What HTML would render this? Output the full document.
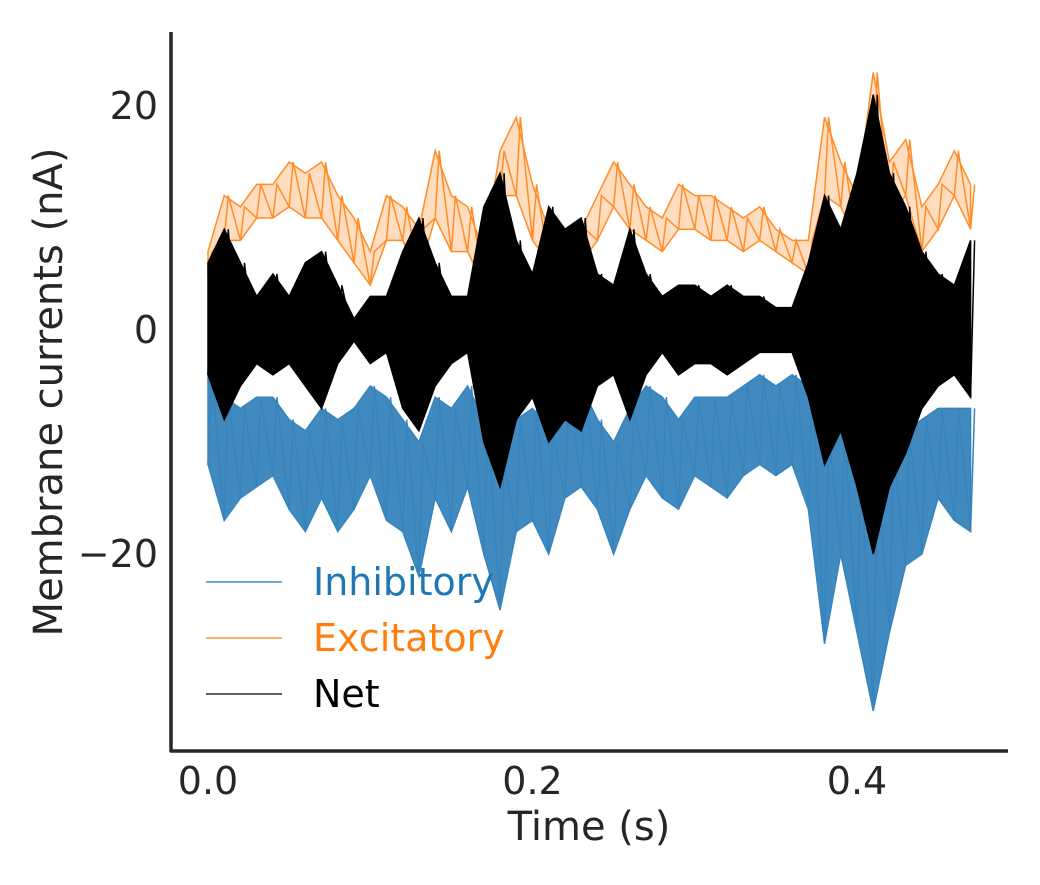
<!DOCTYPE html>
<html><head><meta charset="utf-8"><style>
body{margin:0;background:#fff}
svg text{font-family:"DejaVu Sans","Liberation Sans",sans-serif;fill:#262626}
</style></head><body>
<svg id="c" width="1040" height="880" xmlns="http://www.w3.org/2000/svg">
<g id="plot"></g>
<line x1="171" y1="32" x2="171" y2="752" stroke="#262626" stroke-width="3.5"/>
<line x1="170" y1="751" x2="1008" y2="751" stroke="#262626" stroke-width="3.5"/>
<g id="ticks"></g>
<text x="589" y="840" font-size="40" text-anchor="middle">Time (s)</text>
<text transform="translate(62,392) rotate(-90)" font-size="40" text-anchor="middle">Membrane currents (nA)</text>
<g>
<g><line x1="206" y1="582" x2="282" y2="582" stroke="#1f77b4" stroke-width="1.2"/><text x="313" y="595" font-size="38" style="fill:#1f77b4">Inhibitory</text></g>
<g><line x1="206" y1="638" x2="282" y2="638" stroke="#ff7f0e" stroke-width="1.2"/><text x="313" y="651" font-size="38" style="fill:#ff7f0e">Excitatory</text></g>
<g><line x1="206" y1="694" x2="282" y2="694" stroke="#000" stroke-width="1.2"/><text x="313" y="707" font-size="38" style="fill:#000">Net</text></g>
</g>
</svg>
<script>
const times=[0,0.01,0.02,0.03,0.04,0.05,0.06,0.07,0.08,0.09,0.10,0.11,0.12,0.13,0.14,0.15,0.16,0.17,0.18,0.19,0.20,0.21,0.22,0.23,0.24,0.25,0.26,0.27,0.28,0.29,0.30,0.31,0.32,0.33,0.34,0.35,0.36,0.37,0.38,0.39,0.40,0.41,0.42,0.43,0.44,0.45,0.46,0.47];
const excLo=[5,8,8,10,10,11,10,10,8,6,4,8,8,5,10,7,7,4,12,12,8,6,4,6,8,11,9,8,7,9,9,8,8,7,8,7,6,5,12,11,8,13,10,12,7,9,12,9];
const excHi=[7,12,11,13,13,15,14,15,12,10,7,12,11,9,16,12,11,7,16,19,13,9,8,9,12,15,13,11,10,13,12,12,11,10,11,9,8,8,19,15,12,23,15,17,11,13,16,13];
const inhLo=[-12,-17,-15,-14,-13,-16,-18,-15,-18,-16,-13,-17,-18,-22,-15,-18,-14,-20,-25,-18,-17,-20,-15,-14,-16,-20,-16,-13,-15,-16,-13,-14,-15,-13,-12,-13,-12,-16,-28,-20,-27,-34,-27,-21,-20,-15,-17,-18];
const inhHi=[-4,-6,-7,-6,-6,-8,-9,-7,-8,-7,-5,-6,-8,-10,-6,-7,-5,-8,-12,-8,-7,-9,-5,-5,-8,-10,-7,-5,-6,-8,-6,-6,-6,-5,-4,-5,-4,-5,-9,-9,-12,-12,-11,-9,-8,-7,-7,-7];
const netLo=[-4,-8,-5,-3,-4,-3,-5,-7,-3,-1,-3,-2,-7,-9,-5,-3,-2,-10,-14,-8,-6,-10,-8,-9,-5,-4,-8,-4,-2,-4,-3,-3,-4,-3,-2,-2,-2,-6,-12,-9,-14,-20,-14,-11,-7,-5,-4,-6];
const netHi=[6,9,6,3,5,3,6,7,4,1,3,3,7,10,6,3,3,11,14,8,5,11,9,10,5,4,9,5,3,4,4,3,4,3,3,2,2,6,12,9,14,21,14,11,7,5,4,8];
const xTicks=[0.0,0.2,0.4], xTickLabels=["0.0","0.2","0.4"];
const yTicks=[20,0,-20], yTickLabels=["20","0","\u221220"];

const X=t=>208+t*1622.5;
const Y=v=>330-v*11.2;
const NS="http://www.w3.org/2000/svg";
const plot=document.getElementById('plot');
function band(lo,hi,color,name,op){
  let pts=times.map((t,i)=>X(t)+','+Y(hi[i]));
  for(let i=times.length-1;i>=0;i--)pts.push(X(times[i])+','+Y(lo[i]));
  const p=document.createElementNS(NS,'polygon');
  p.setAttribute('points',pts.join(' '));
  p.setAttribute('fill',color);p.setAttribute('fill-opacity',op);
  p.setAttribute('stroke',color);p.setAttribute('stroke-width','1.5');
  
  
  plot.appendChild(p);
  let d='';
  times.forEach((t,i)=>{
    d+=(i?'L':'M')+X(t)+','+Y(lo[i])+'L'+(X(t)+4)+','+Y(hi[i]);
  });
  const l=document.createElementNS(NS,'path');
  l.setAttribute('d',d);l.setAttribute('fill','none');
  l.setAttribute('stroke',color);l.setAttribute('stroke-width','1.5');
  
  
  plot.appendChild(l);
}
band(inhLo,inhHi,'#3784bd','inhibitory-series',0.95);
band(excLo,excHi,'#ff8d29','excitatory-series',0.3);
band(netLo,netHi,'#000000','net-series',1);
const tk=document.getElementById('ticks');
xTicks.forEach((t,i)=>{
  const e=document.createElementNS(NS,'text');
  e.setAttribute('x',X(t));e.setAttribute('y',794);
  e.setAttribute('font-size','38');e.setAttribute('text-anchor','middle');
  e.textContent=xTickLabels[i];
  
  
  tk.appendChild(e);
});
yTicks.forEach((v,i)=>{
  const e=document.createElementNS(NS,'text');
  e.setAttribute('x',158);e.setAttribute('y',Y(v)+13);
  e.setAttribute('font-size','38');e.setAttribute('text-anchor','end');
  e.textContent=yTickLabels[i];
  
  
  tk.appendChild(e);
});
</script>
</body></html>
